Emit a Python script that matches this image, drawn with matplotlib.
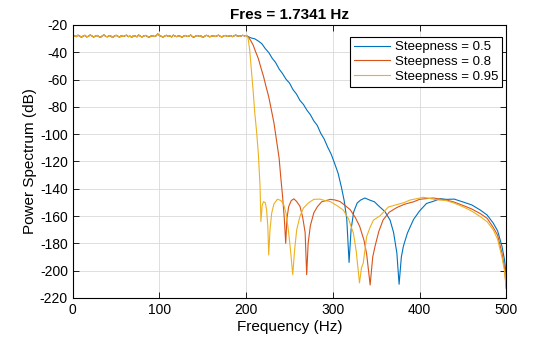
import numpy as np
import matplotlib
matplotlib.use("Agg")
from matplotlib import pyplot as plt

# shared passband (0-200 Hz), dB
pass_db = [-28.4, -27.9, -28.6, -27.5, -28.2, -29.0, -28.1, -27.6, -28.8, -28.3,
           -27.4, -28.0, -28.9, -28.2, -27.7, -28.5, -29.1, -28.0, -27.3, -28.4,
           -28.7, -27.8, -28.2, -29.2, -28.1, -27.6, -28.3, -28.9, -27.9, -28.5,
           -28.0, -27.5, -28.6, -28.2, -29.0, -27.8, -28.1, -28.7, -27.4, -28.3,
           -28.8, -28.0, -27.7, -28.4, -29.1, -28.2, -27.9, -28.5, -28.0, -26.6,
           -27.8, -28.3, -28.9, -28.1, -27.6, -28.4, -28.0, -28.8, -27.5, -28.2,
           -28.6, -27.9, -28.3, -29.0, -28.1, -27.7, -28.5, -28.2, -27.4, -28.6,
           -28.9, -28.0, -27.8, -28.4, -28.1, -29.2, -28.3, -27.6, -28.0, -28.7,
           -28.2, -27.9, -28.5, -28.1, -27.5, -28.3, -28.8, -28.0, -27.7, -28.4,
           -28.2, -27.8, -28.6, -28.0, -27.4, -28.3, -27.9, -28.1, -27.6, -28.0, -27.7]
pass_hz = np.linspace(0, 200, len(pass_db))

# steepness 0.5
s05_hz = [202, 206, 210, 214, 218, 222, 226, 230, 234, 238, 242, 246, 250, 254, 258,
          262, 266, 270, 274, 278, 282, 286, 290, 294, 298, 302, 306, 310, 313, 316,
          318.7, 321, 324, 328, 332, 337, 342, 348, 354, 360, 366, 370, 373.8, 376.4,
          379, 381.4, 386, 393, 400, 408, 416, 424, 431, 440, 450, 460, 470, 478, 485,
          490, 495, 498, 500]
s05_db = [-28.5, -29.6, -30.2, -31.8, -33.7, -37.3, -40.2, -44.4, -47.6, -52.3, -55.7,
          -59.8, -62.6, -67.4, -70.6, -75.3, -78.2, -82.4, -85.7, -90.3, -93.6, -99.4,
          -103.6, -109.5, -114.6, -121.4, -128.6, -139.3, -148.6, -162.0, -194.0, -170.0,
          -157.0, -150.5, -148.3, -146.8, -148.2, -149.6, -153.3, -156.7, -163.0, -172.0,
          -187.0, -210.0, -190.0, -182.0, -172.5, -162.6, -156.3, -150.8, -149.2, -147.3,
          -147.8, -147.6, -149.7, -151.8, -155.6, -159.3, -165.2, -170.8, -182.0, -192.0,
          -203.0]

# steepness 0.8
s08_hz = [202, 205, 208, 211, 214, 217, 220, 223, 226, 229, 232, 235, 238, 240, 242,
          244, 245.6, 247, 249, 252, 255, 258, 262, 265, 268, 269.8, 271.5, 274, 278,
          282, 287, 292, 297, 302, 308, 314, 320, 326, 331, 336, 339, 343, 346, 348.7,
          353, 358, 365, 374, 383, 393, 400, 408, 416, 424, 431, 440, 450, 460, 470,
          478, 485, 490, 495, 498, 500]
s08_db = [-28.6, -31.2, -34.7, -39.8, -44.6, -51.3, -57.7, -65.4, -72.6, -82.3, -91.6,
          -104.4, -117.6, -132.3, -145.6, -162.0, -180.0, -162.0, -153.2, -148.7, -147.4,
          -149.2, -152.8, -160.3, -172.0, -203.0, -180.0, -167.2, -157.7, -153.3, -149.6,
          -148.7, -147.8, -148.2, -149.3, -152.2, -155.4, -161.2, -167.7, -178.0, -188.0,
          -210.5, -190.0, -182.0, -171.3, -162.8, -157.2, -153.7, -151.3, -149.6, -147.8,
          -147.2, -146.8, -147.6, -148.3, -149.8, -152.2, -154.8, -158.2, -161.7, -168.3,
          -174.0, -187.0, -198.0, -213.0]

# steepness 0.95
s095_hz = [202, 204, 206, 208, 210, 212, 214, 216, 217, 218.5, 220, 222, 223.5, 225,
           226, 227.5, 229.4, 232, 236, 240, 243, 246, 248.6, 251, 253.7, 256, 258.3,
           262, 266, 272, 278, 285, 291, 297, 304, 312, 318, 323.7, 327, 330.7, 333,
           335, 339, 343, 346.8, 354.5, 364, 374, 382, 389, 396, 404.5, 412, 420, 431,
           440, 450, 460, 470, 478, 485, 490, 495, 498, 500]
s095_db = [-29.0, -38.0, -53.0, -68.0, -85.0, -98.0, -114.0, -138.0, -164.0, -152.0,
           -149.5, -150.2, -155.0, -168.0, -188.5, -170.0, -158.0, -151.2, -147.7, -148.6,
           -151.0, -158.0, -170.0, -184.0, -203.0, -184.0, -170.0, -160.3, -154.2, -150.3,
           -147.8, -147.6, -148.7, -149.4, -152.1, -155.6, -162.0, -172.6, -186.0, -209.0,
           -198.0, -194.6, -175.0, -168.2, -163.0, -159.8, -153.4, -151.6, -150.2, -148.3,
           -147.4, -146.3, -147.2, -148.1, -148.7, -150.6, -153.2, -156.3, -160.4, -164.2,
           -170.1, -177.0, -190.0, -200.0, -213.0]

labels = ["Steepness = 0.5", "Steepness = 0.8", "Steepness = 0.95"]
colors = ["#0072BD", "#D95319", "#EDB120"]

plt.rcParams['font.family'] = ['Liberation Sans', 'DejaVu Sans']
plt.rcParams['axes.unicode_minus'] = False

fig = plt.figure(figsize=(5.6, 3.37), dpi=100)
ax = fig.add_axes([0.130, 0.116, 0.774, 0.810])

for hz, db, lab, col in zip([s05_hz, s08_hz, s095_hz], [s05_db, s08_db, s095_db], labels, colors):
    x = np.concatenate([pass_hz, hz])
    y = np.concatenate([pass_db, db])
    ax.plot(x, y, color=col, lw=0.8, label=lab)

ax.set_xlim(0, 500)
ax.set_ylim(-220, -20)
ax.set_xticks(np.arange(0, 501, 100))
ax.set_yticks(np.arange(-220, -19, 20))
ax.grid(True, color='#d9d9d9', lw=0.6)
ax.set_axisbelow(True)
ax.tick_params(direction='in', top=True, right=True, labelsize=10, length=4, width=0.6)
for sp in ax.spines.values():
    sp.set_linewidth(0.8)

ax.set_xlabel('Frequency (Hz)', fontsize=11, labelpad=2)
ax.set_ylabel('Power Spectrum (dB)', fontsize=11, labelpad=2)
ax.set_title('Fres = 1.7341 Hz', fontsize=11, fontweight='bold', pad=4)

leg = ax.legend(loc='upper right', bbox_to_anchor=(0.991, 0.956), borderaxespad=0,
                fontsize=9.5, fancybox=False, edgecolor='black', framealpha=1,
                handlelength=2.7, handletextpad=0.4, labelspacing=0.2, borderpad=0.3)
leg.get_frame().set_linewidth(0.8)

fig.savefig('out.png', dpi=100)
